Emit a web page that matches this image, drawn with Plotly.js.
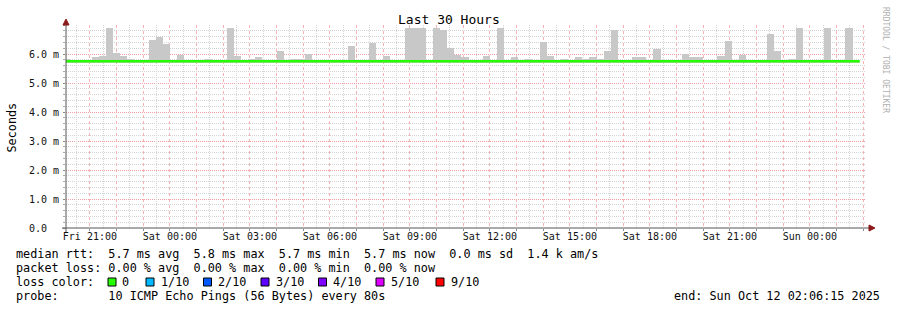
<!DOCTYPE html>
<html><head><meta charset="utf-8">
<script src="https://cdn.plot.ly/plotly-3.0.1.min.js"></script>
<style>html,body{margin:0;padding:0;background:#fff}#c{width:897px;height:310px}</style>
</head><body><div id="c"></div>
<script>
// ---- data (960 s consolidated bins; first bin is partially visible) ----
const binStart = '2025-10-10 20:00:00';
const binSeconds = 960;
// max ping per bin (ms) -> top of grey smoke
const smokeMax = [5.83,
 5.77,5.77,5.80,5.88,5.92,6.91,6.05,5.92,5.83,5.77,
 5.80,6.49,6.60,6.33,5.77,5.95,5.77,5.77,5.77,5.83,
 5.77,5.77,6.91,5.92,5.80,5.83,5.88,5.80,5.80,6.09,
 5.80,5.83,5.83,6.01,5.80,5.77,5.77,5.77,5.77,6.29,
 5.80,5.80,6.39,5.80,5.92,5.80,5.77,6.91,6.91,6.91,
 5.80,6.91,6.84,6.22,5.98,5.88,5.80,5.77,5.92,5.80,
 6.91,5.77,5.88,5.80,5.83,5.80,6.42,5.92,5.80,5.83,
 5.80,5.88,5.83,5.88,5.83,6.09,6.84,5.77,5.80,5.88,
 5.88,5.80,6.16,5.80,5.80,5.77,5.99,5.88,5.88,5.77,
 5.77,5.92,6.46,5.77,5.95,5.77,5.77,5.77,6.70,6.11,
 5.77,5.83,6.91,5.80,5.77,5.77,6.91,5.80,5.77,6.91,5.77];
// min ping per bin (ms) -> bottom of grey smoke
const smokeMin = 5.70;
// median rtt per bin (ms)
const medianRtt = [5.75,
 5.75,5.75,5.75,5.75,5.75,5.75,5.75,5.75,5.75,5.75,
 5.75,5.75,5.75,5.75,5.75,5.75,5.75,5.75,5.75,5.75,
 5.75,5.75,5.75,5.75,5.75,5.75,5.75,5.75,5.75,5.75,
 5.75,5.75,5.75,5.75,5.75,5.75,5.75,5.75,5.75,5.75,
 5.75,5.75,5.75,5.75,5.75,5.75,5.75,5.75,5.75,5.75,
 5.75,5.75,5.75,5.75,5.75,5.75,5.75,5.75,5.75,5.75,
 5.75,5.75,5.75,5.75,5.75,5.75,5.75,5.75,5.75,5.75,
 5.75,5.75,5.75,5.75,5.75,5.75,5.75,5.75,5.75,5.75,
 5.75,5.75,5.75,5.75,5.75,5.75,5.75,5.75,5.75,5.75,
 5.75,5.75,5.75,5.75,5.75,5.75,5.75,5.75,5.75,5.75,
 5.75,5.75,5.75,5.75,5.75,5.75,5.75,5.75,5.75,5.75,5.75];
const rangeStart = '2025-10-10 20:06:15';
const rangeEnd = '2025-10-12 02:06:15';
const yTickVals = [0,1,2,3,4,5,6];
const yTickText = ['0.0  ','1.0 m','2.0 m','3.0 m','4.0 m','5.0 m','6.0 m'];
const xLabelFirst = '2025-10-10 21:00:00';
const xTickLabels = ['Fri 21:00','','','Sat 00:00','','','Sat 03:00','','','Sat 06:00','','','Sat 09:00','','',
  'Sat 12:00','','','Sat 15:00','','','Sat 18:00','','','Sat 21:00','','','Sun 00:00','',''];
const lossLabels = ['0','1/10','2/10','3/10','4/10','5/10','9/10'];
const lossColors = ['#26ff00','#00b8ff','#0059ff','#5e00ff','#7e00ff','#dd00ff','#ff0000'];
const statsLine1 = 'median rtt:  5.7 ms avg  5.8 ms max  5.7 ms min  5.7 ms now  0.0 ms sd  1.4 k am/s';
const statsLine2 = 'packet loss: 0.00 % avg  0.00 % max  0.00 % min  0.00 % now';
const probeLine = 'probe:       10 ICMP Echo Pings (56 Bytes) every 80s';
const endLine = 'end: Sun Oct 12 02:06:15 2025';

// ---- build ----
const toMs = s => Date.parse(s.replace(' ','T')+'Z');
const t0 = toMs(binStart), step = binSeconds*1000;
const centers = smokeMax.map((_,i)=> t0 + i*step + step/2);
const starts = medianRtt.map((_,i)=> t0 + i*step);
const lineX = starts.concat([t0 + medianRtt.length*step]);
const lineY = medianRtt.concat([medianRtt[medianRtt.length-1]]);
const xTickVals = xTickLabels.map((_,i)=> toMs(xLabelFirst) + i*3600000);
const xHalfVals = xTickVals.map(v=> v - 1800000);

const NB = s => s.replace(/ /g,'\u00a0');
const L=66, T=25, W=800, H=203;
const xp = px => (px-L)/W, yp = py => (T+H-py)/H;
const mono = 'DejaVu Sans Mono';

const traces = [
 {type:'scatter', mode:'markers', x:[toMs(rangeStart)], y:[-1], xaxis:'x2', yaxis:'y',
  marker:{opacity:0}, hoverinfo:'skip'},
 {type:'bar', x:centers, y:smokeMax.map(v=>v-smokeMin), base:smokeMin, width:step,
  marker:{color:'#c8c8c8', line:{width:0}}, hoverinfo:'skip'},
 {type:'scatter', mode:'lines', x:lineX, y:lineY, line:{color:'#26ff00', width:2.5, shape:'hv'}, hoverinfo:'skip'}
];

const ann = [];
const txt = (px,py,t,o={}) => ann.push(Object.assign({xref:'paper',yref:'paper',x:xp(px),y:yp(py),text:NB(t),
  showarrow:false,xanchor:'left',yanchor:'middle',borderpad:0,font:{family:mono,size:11.8,color:'#000'}},o));
txt(448.5,20,'Last 30 Hours',{xanchor:'center',font:{family:mono,size:13,color:'#000'}});
txt(11.5,127,'Seconds',{xanchor:'center',textangle:-90});
txt(886,60,'RRDTOOL / TOBI OETIKER',{xanchor:'center',textangle:90,font:{family:mono,size:8,color:'#b0b0b0'}});
txt(15,254,statsLine1);
txt(15,268,statsLine2);
txt(15,282,'loss color:');
txt(15,296,probeLine);
txt(881,296,endLine,{xanchor:'right'});
const lossTextX = [120.5,159.5,217,274.5,332,389.5,449.5];
const lossBoxX = [108,146,203.5,261,318.5,376,436];
const shapes = [];
lossLabels.forEach((lab,i)=>{
  txt(lossTextX[i],282,lab);
  const sx = lossBoxX[i];
  shapes.push({type:'rect',xref:'paper',yref:'paper',x0:xp(sx),x1:xp(sx+8),y0:yp(286),y1:yp(278),
    fillcolor:lossColors[i],line:{color:'#000',width:1}});
});
// axes with arrows
shapes.push({type:'line',xref:'paper',yref:'paper',x0:xp(66),x1:xp(66),y0:yp(232),y1:yp(22),line:{color:'#555',width:1}});
shapes.push({type:'line',xref:'paper',yref:'paper',x0:xp(62),x1:xp(870),y0:yp(228),y1:yp(228),line:{color:'#555',width:1}});
shapes.push({type:'path',xref:'paper',yref:'paper',
  path:`M ${xp(66)} ${yp(19)} L ${xp(63)} ${yp(25)} L ${xp(69)} ${yp(25)} Z`,fillcolor:'#8b1a1a',line:{color:'#8b1a1a',width:1}});
shapes.push({type:'path',xref:'paper',yref:'paper',
  path:`M ${xp(875)} ${yp(228)} L ${xp(869)} ${yp(225)} L ${xp(869)} ${yp(231)} Z`,fillcolor:'#8b1a1a',line:{color:'#8b1a1a',width:1}});

const layout = {
  width:897, height:310, margin:{l:L,r:897-L-W,t:T,b:310-T-H,pad:0},
  paper_bgcolor:'#fff', plot_bgcolor:'#fff', showlegend:false, bargap:0,
  xaxis:{type:'date', range:[toMs(rangeStart),toMs(rangeEnd)], tickmode:'array', tickvals:xTickVals,
    ticktext:xTickLabels, showgrid:true, gridcolor:'#f4b4b4', griddash:'dot', gridwidth:1,
    ticks:'outside', ticklen:2, tickcolor:'#888', showline:false, zeroline:false, ticklabelstandoff:-3,
    tickfont:{family:mono,size:10,color:'#111'}, fixedrange:true},
  xaxis2:{type:'date', overlaying:'x', side:'bottom', range:[toMs(rangeStart),toMs(rangeEnd)], tickmode:'array',
    tickvals:xHalfVals, showticklabels:false, showgrid:true, gridcolor:'#d4d4d4', griddash:'1px,1px',
    ticks:'', showline:false, zeroline:false, fixedrange:true},
  yaxis:{range:[0,7], tickmode:'array', tickvals:yTickVals, ticktext:yTickText.map(NB),
    showgrid:true, gridcolor:'#f0a0a0', griddash:'1px,1px', ticks:'outside', ticklen:2, tickcolor:'#888',
    showline:false, zeroline:false, tickfont:{family:mono,size:10,color:'#111'}, ticklabelstandoff:2,
    minor:{dtick:0.2, showgrid:true, gridcolor:'#d4d4d4', griddash:'1px,1px', ticks:'outside', ticklen:2, tickcolor:'#aaa'},
    fixedrange:true},
  annotations:ann, shapes:shapes
};
Plotly.newPlot('c', traces, layout, {displayModeBar:false, staticPlot:true});
</script></body></html>
